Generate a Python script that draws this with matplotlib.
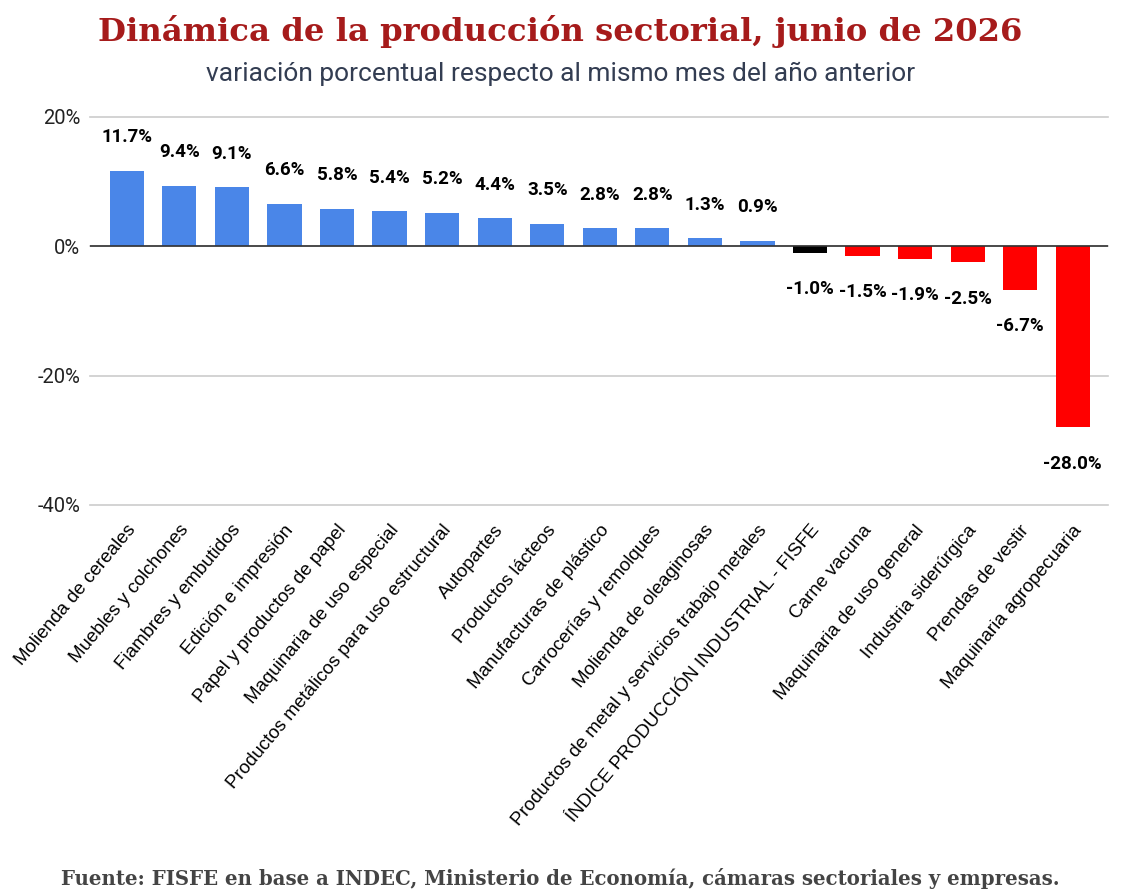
import matplotlib.pyplot as plt
import matplotlib.transforms as mtransforms
from matplotlib.ticker import FuncFormatter

# datos
sectores = [
    "Molienda de cereales", "Muebles y colchones", "Fiambres y embutidos",
    "Edición e impresión", "Papel y productos de papel",
    "Maquinaria de uso especial", "Productos metálicos para uso estructural",
    "Autopartes", "Productos lácteos", "Manufacturas de plástico",
    "Carrocerías y remolques", "Molienda de oleaginosas",
    "Productos de metal y servicios trabajo metales",
    "ÍNDICE PRODUCCIÓN INDUSTRIAL - FISFE", "Carne vacuna",
    "Maquinaria de uso general", "Industria siderúrgica", "Prendas de vestir",
    "Maquinaria agropecuaria",
]
variacion = [11.7, 9.4, 9.1, 6.6, 5.8, 5.4, 5.2, 4.4, 3.5, 2.8, 2.8, 1.3, 0.9,
             -1.0, -1.5, -1.9, -2.5, -6.7, -28.0]
indice = "ÍNDICE PRODUCCIÓN INDUSTRIAL - FISFE"
yticks = [20, 0, -20, -40]

colores = []
for s, v in zip(sectores, variacion):
    if s == indice:
        colores.append("#000000")
    elif v >= 0:
        colores.append("#4a86e8")
    else:
        colores.append("#ff0000")

fig = plt.figure(figsize=(11.21, 8.96), dpi=100)
ax = fig.add_axes([90 / 1121, 1 - 505 / 896, (1108 - 90) / 1121, (505 - 117) / 896])

x = list(range(len(sectores)))
ax.bar(x, variacion, width=0.65, color=colores, zorder=3)

ax.set_ylim(-40, 20)
ax.set_xlim(-0.7, len(sectores) - 0.33)
ax.set_yticks(yticks)
ax.yaxis.set_major_formatter(FuncFormatter(lambda v, p: f"{v:.0f}%"))
ax.grid(axis="y", color="#cccccc", linewidth=1.2, zorder=0)
for gl in ax.get_ygridlines():
    gl.set_clip_on(False)
ax.axhline(0, color="#333333", linewidth=1.2, zorder=4)
for sp in ax.spines.values():
    sp.set_visible(False)
ax.tick_params(axis="both", length=0)
ax.tick_params(axis="y", labelsize=14.5, pad=7, labelcolor="#222222")
for t in ax.get_yticklabels():
    t.set_family("Roboto")

ax.set_xticks(x)
ax.set_xticklabels(sectores, rotation=50, ha="right", va="center",
                   rotation_mode="anchor", fontsize=13.5, family="Liberation Sans")
ax.tick_params(axis="x", pad=16)
# correr un poco las etiquetas a la derecha
desplazamiento = mtransforms.ScaledTranslation(6 / 100, 0, fig.dpi_scale_trans)
for t in ax.get_xticklabels():
    t.set_transform(t.get_transform() + desplazamiento)

for xi, v in zip(x, variacion):
    off = 24 if v >= 0 else -26
    ax.annotate(f"{v:.1f}%", (xi, v), xytext=(0, off), textcoords="offset points",
                ha="center", va="center", fontsize=13.5, fontweight="bold",
                family="Roboto", color="#000000")

fig.text(0.5, 1 - 31 / 896, "Dinámica de la producción sectorial, junio de 2026",
         ha="center", va="center", fontsize=23.2, fontweight="bold",
         family="DejaVu Serif", color="#a61b1b")
fig.text(0.5, 1 - 74 / 896, "variación porcentual respecto al mismo mes del año anterior",
         ha="center", va="center", fontsize=19, family="Roboto", color="#333d52")
fig.text(0.5, 1 - 878 / 896,
         "Fuente: FISFE en base a INDEC, Ministerio de Economía, cámaras sectoriales y empresas.",
         ha="center", va="center", fontsize=14.2, fontweight="bold",
         family="DejaVu Serif", color="#444444")

fig.savefig("out.png", dpi=100)
